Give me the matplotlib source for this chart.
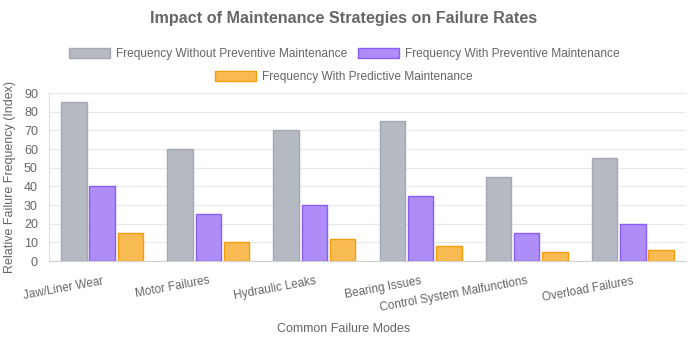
import matplotlib.pyplot as plt
import numpy as np

categories = ['Jaw/Liner Wear', 'Motor Failures', 'Hydraulic Leaks', 'Bearing Issues',
              'Control System Malfunctions', 'Overload Failures']
without_preventive = [85, 60, 70, 75, 45, 55]
with_preventive = [40, 25, 30, 35, 15, 20]
with_predictive = [15, 10, 12, 8, 5, 6]
series_names = ['Frequency Without Preventive Maintenance',
                'Frequency With Preventive Maintenance',
                'Frequency With Predictive Maintenance']

plt.rcParams['font.family'] = ['Liberation Sans', 'DejaVu Sans']
text_color = '#666666'

fig = plt.figure(figsize=(6.88, 3.44), dpi=100)
ax = fig.add_axes([49 / 688, 1 - 261 / 344, 637 / 688, 168 / 344])

x = np.arange(len(categories))
slot = 0.8 / 3
bar_w = slot * 0.9
styles = [('#b5b9c2', '#a3a8b3'), ('#ae8df9', '#8b5cf6'), ('#f8bb54', '#f59e0b')]
handles = []
for i, vals in enumerate([without_preventive, with_preventive, with_predictive]):
    face, edge = styles[i]
    h = ax.bar(x + (i - 1) * slot, vals, width=bar_w, color=face, edgecolor=edge,
               linewidth=1, label=series_names[i], zorder=3)
    handles.append(h)

ax.set_xlim(-0.5, len(categories) - 0.5)
ax.set_ylim(0, 90)
ax.set_yticks(range(0, 91, 10))
ax.grid(axis='y', color='#e8e8e8', linewidth=0.8, zorder=0)
ax.set_axisbelow(True)
for s in ['top', 'right']:
    ax.spines[s].set_visible(False)
ax.spines['left'].set_color('#e0e0e0')
ax.spines['bottom'].set_color('#d0d0d0')

ax.set_xticks(x)
ax.set_xticklabels(categories, rotation=10.5, ha='right', va='top', rotation_mode='anchor')
ax.tick_params(axis='x', length=0, pad=10, labelsize=8.5, labelcolor=text_color)
ax.tick_params(axis='y', length=0, pad=8, labelsize=9, labelcolor=text_color)

ax.set_ylabel('Relative Failure Frequency (Index)', fontsize=9, color=text_color, labelpad=6)
fig.text(0.5, 1 - 329 / 344, 'Common Failure Modes', ha='center', va='center',
         fontsize=9, color=text_color)

fig.text(0.5, 1 - 18 / 344, 'Impact of Maintenance Strategies on Failure Rates',
         ha='center', va='center', fontsize=11.6, fontweight='bold', color=text_color)

leg_kw = dict(frameon=False, fontsize=8.6, handlelength=3.45, handleheight=0.85,
              handletextpad=0.5, columnspacing=0.9, labelcolor=text_color,
              borderaxespad=0, borderpad=0)
fig.legend(handles[:2], series_names[:2], loc='center', ncol=2,
           bbox_to_anchor=(0.5, 1 - 54 / 344), **leg_kw)
fig.legend(handles[2:], series_names[2:], loc='center', ncol=1,
           bbox_to_anchor=(0.5, 1 - 77 / 344), **leg_kw)

fig.savefig('out.png', dpi=100)
